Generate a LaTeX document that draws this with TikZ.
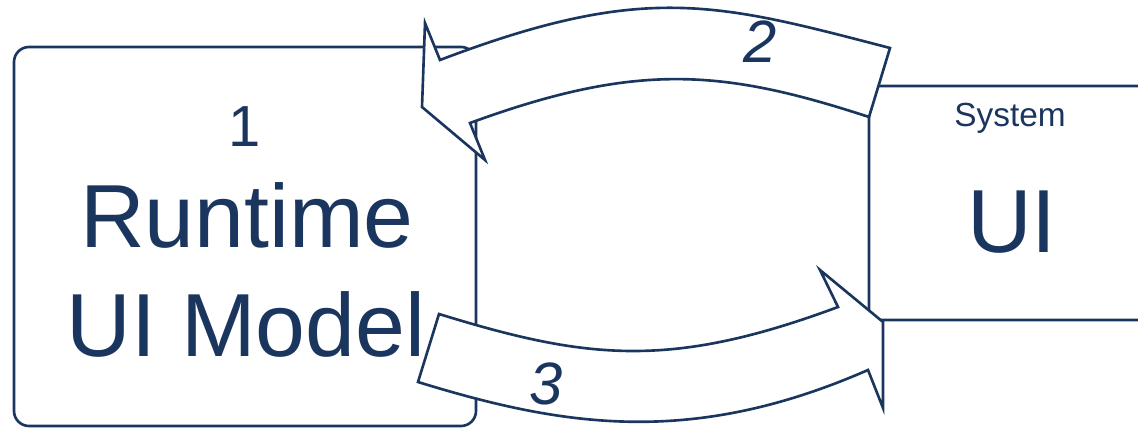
\documentclass[tikz,border=0pt]{standalone}
\usepackage{fontspec}
\setmainfont{Liberation Sans}
\definecolor{navy}{RGB}{27,54,94}

\begin{document}
\begin{tikzpicture}[x=0.02cm, y=-0.02cm,
    every node/.style={text=navy, inner sep=0pt, anchor=base},
    outline/.style={color=navy, line width=1.5pt},
    band/.style={outline, fill=white, line join=miter}]

    \useasboundingbox (0,0) rectangle (1138,428);
    \clip (0,0) rectangle (1138,428);

    % Draw boxes.
    \draw[outline, rounded corners=0.3cm] (14,47) rectangle (476,426);
    \draw[outline, rounded corners=0.16cm] (869,86) rectangle (1170,320);

    % Draw arrows (2 goes back to the model, 3 goes to the ui).
    \draw[band] (440,60) .. controls (645,-18) and (717,3) .. (890,48)
        -- (869,117)
        .. controls (722,69) and (637,62) .. (470,123)
        -- (485,160) -- (422,107) -- (425,23) -- cycle;

    \draw[band] (439,314) .. controls (588,360) and (671,369) .. (838,307)
        -- (820,270) -- (883,322) -- (883,408) -- (868,370)
        .. controls (692,447) and (564,427) .. (418,382)
        -- cycle;

    % labels
    \node[font=\fontsize{33}{33}\selectfont] (num1) at (245,147) {1};
    \node[font=\fontsize{51}{51}\selectfont] (runtime) at (247,248) {Runtime};
    \node[font=\fontsize{51}{51}\selectfont] (model) at (246,357) {UI Model};
    \node[font=\fontsize{19}{19}\selectfont] (system) at (1010,127) {System};
    \node[font=\fontsize{51}{51}\selectfont] (ui) at (1012,253) {UI};
    \node[font=\fontsize{34}{34}\selectfont\itshape] (num2) at (760,63) {2};
    \node[font=\fontsize{34}{34}\selectfont\itshape] (num3) at (546,404) {3};

\end{tikzpicture}
\end{document}
